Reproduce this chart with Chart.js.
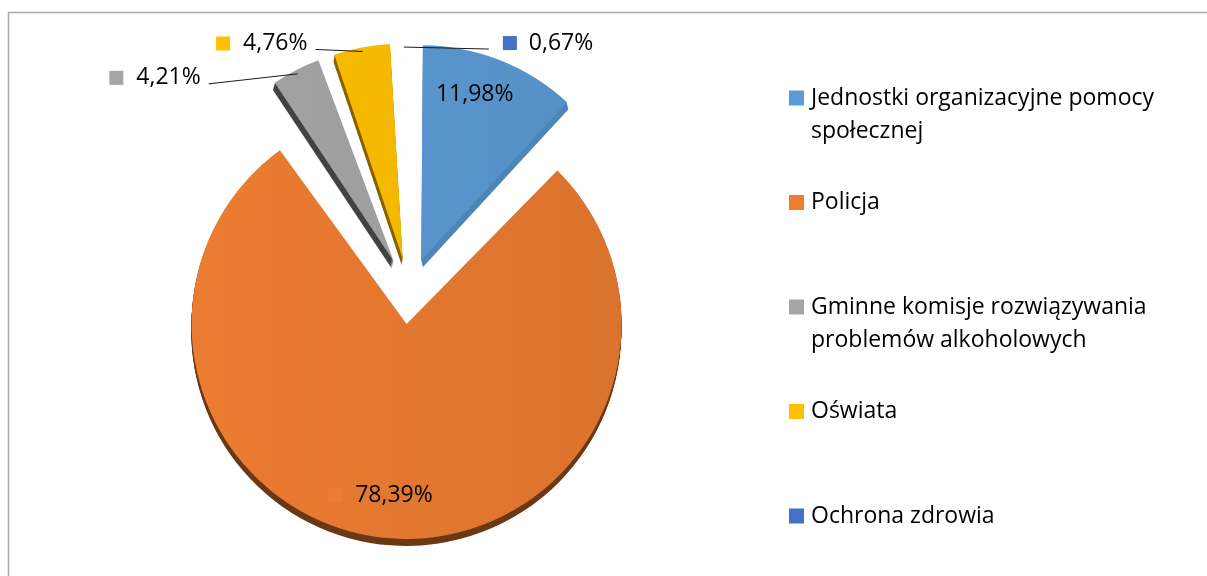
<!DOCTYPE html>
<html lang="pl">
<head>
<meta charset="utf-8">
<title>Struktura podmiotów</title>
<script src="https://cdn.jsdelivr.net/npm/chart.js@4.4.1/dist/chart.umd.min.js"></script>
<style>
  html, body { margin: 0; padding: 0; background: #fff; }
  #wrap { width: 1207px; height: 576px; }
</style>
</head>
<body>
<div id="wrap"><canvas id="chart" width="1207" height="576"></canvas></div>
<script>
const categories = [
  "Jednostki organizacyjne pomocy społecznej",
  "Policja",
  "Gminne komisje rozwiązywania problemów alkoholowych",
  "Oświata",
  "Ochrona zdrowia",
];
const shares = [11.98, 78.39, 4.21, 4.76, 0.67];
const colors = ["#5B9BD5", "#ED7D31", "#A5A5A5", "#FFC000", "#4472C4"];
const sideShade = [0.86, 0.45, 0.4, 0.52, 0.6]; // jasność boku "3D"

const FONT = "'Open Sans', sans-serif";
const FONT_SIZE = 23;
const R = 215;        // promień koła
const EXPLODE = 33;   // odsunięcie wycinków od środka
const DEPTH = 7;      // grubość "3D"
const SLANT = 1.5;    // boczne przesunięcie boku (perspektywa)
const KEY = 14;       // kwadracik klucza w etykietach

// etykiety danych: w środku wycinka albo obok, z linią odniesienia
const labelPos = [
  { inside: 0.83, dx: -12, key: false },
  { inside: 0.8, dx: 0, key: true },
  { side: "left", dx: -97, dy: 4 },
  { side: "left", dx: -55, dy: -8 },
  { side: "right", dx: 99, dy: -4 },
];

const fmt = v => v.toFixed(2).replace(".", ",") + "%";

function rgb(hex) {
  const n = parseInt(hex.slice(1), 16);
  return [(n >> 16) & 255, (n >> 8) & 255, n & 255];
}
function shade(hex, f) {
  const [r, g, b] = rgb(hex).map(c => Math.round(c * f));
  return `rgb(${r},${g},${b})`;
}

// lekki gradient na wierzchu wycinków
function sliceFill(context) {
  const chart = context.chart;
  const base = colors[context.dataIndex];
  const area = chart.chartArea;
  if (!area) return base;
  const cx = (area.left + area.right) / 2;
  const g = chart.ctx.createLinearGradient(cx - R, 0, cx + R, 0);
  g.addColorStop(0, shade(base, 0.995));
  g.addColorStop(1, shade(base, 0.92));
  return g;
}

// chart.js powiększa promień odsuniętych wycinków - wyrównujemy
const equalRadius = {
  id: "equalRadius",
  afterDatasetsUpdate(chart) {
    chart.getDatasetMeta(0).data.forEach(a => {
      const fix = 1 - Math.sin(Math.min(Math.PI, a.circumference));
      a.outerRadius = R - EXPLODE * fix;
    });
  },
};

// ciemniejszy "bok" pod wycinkami
const depth = {
  id: "depth",
  beforeDatasetsDraw(chart) {
    const ctx = chart.ctx;
    const arcs = chart.getDatasetMeta(0).data;
    arcs.forEach((a, i) => {
      const orig = a.options;
      const mid = (a.startAngle + a.endAngle) / 2;
      const sx = Math.cos(mid) * SLANT / DEPTH;
      a.options = Object.assign({}, orig, { backgroundColor: shade(colors[i], sideShade[i]) });
      for (let k = 1; k <= DEPTH; k++) {
        ctx.save();
        ctx.translate(k * sx * 3, k);
        a.draw(ctx);
        ctx.restore();
      }
      a.options = orig;
    });
  },
};

const dataLabels = {
  id: "dataLabels",
  afterDatasetsDraw(chart) {
    const ctx = chart.ctx;
    const arcs = chart.getDatasetMeta(0).data;
    ctx.save();
    ctx.font = FONT_SIZE + "px " + FONT;
    ctx.textBaseline = "middle";
    arcs.forEach((a, i) => {
      const mid = (a.startAngle + a.endAngle) / 2;
      const cx = a.x + Math.cos(mid) * EXPLODE;
      const cy = a.y + Math.sin(mid) * EXPLODE;
      const text = fmt(shares[i]);
      const tw = ctx.measureText(text).width;
      const p = labelPos[i];
      if (p.inside) {
        const tx = cx + Math.cos(mid) * R * p.inside + p.dx;
        const ty = cy + Math.sin(mid) * R * p.inside;
        if (p.key) {
          ctx.fillStyle = colors[i];
          ctx.fillRect(tx - tw / 2 - 13 - KEY, ty - KEY / 2, KEY, KEY);
        }
        ctx.fillStyle = "#000";
        ctx.textAlign = "center";
        ctx.fillText(text, tx, ty);
        return;
      }
      const ax = cx + Math.cos(mid) * (R - 4);
      const ay = cy + Math.sin(mid) * (R - 4);
      const ty = ay + p.dy;
      let sx, sq, tx;
      if (p.side === "left") {
        tx = ax + p.dx;
        sq = tx - tw - 13 - KEY;
        sx = tx + 8;
        ctx.textAlign = "right";
      } else {
        sq = ax + p.dx;
        tx = sq + KEY + 12;
        sx = sq - 14;
        ctx.textAlign = "left";
      }
      ctx.strokeStyle = "#1a1a1a";
      ctx.lineWidth = 1;
      ctx.beginPath();
      ctx.moveTo(sx, ty + 6);
      ctx.lineTo(ax, ay);
      ctx.stroke();
      ctx.fillStyle = colors[i];
      ctx.fillRect(sq, ty - KEY / 2, KEY, KEY);
      ctx.fillStyle = "#000";
      ctx.fillText(text, tx, ty);
    });
    ctx.restore();
  },
};

// legenda po prawej, z zawijaniem długich nazw
const sideLegend = {
  id: "sideLegend",
  afterDraw(chart) {
    const ctx = chart.ctx;
    const x = 789, top = 98, step = 104.5, lineH = 33, maxW = 380;
    ctx.save();
    ctx.font = FONT_SIZE + "px " + FONT;
    ctx.textBaseline = "middle";
    ctx.textAlign = "left";
    chart.data.labels.forEach((label, i) => {
      const y = top + i * step;
      ctx.fillStyle = colors[i];
      ctx.fillRect(x, y - 7.5, 15, 15);
      const lines = [];
      let line = "";
      label.split(" ").forEach(w => {
        const t = line ? line + " " + w : w;
        if (ctx.measureText(t).width > maxW && line) {
          lines.push(line);
          line = w;
        } else {
          line = t;
        }
      });
      lines.push(line);
      ctx.fillStyle = "#000";
      lines.forEach((l, k) => ctx.fillText(l, x + 22, y + k * lineH));
    });
    // ramka wykresu
    ctx.strokeStyle = "#a9a9a9";
    ctx.lineWidth = 1.5;
    ctx.strokeRect(8.5, 12.5, 1400, 800);
    ctx.restore();
  },
};

const chart = new Chart(document.getElementById("chart"), {
  type: "pie",
  data: {
    labels: categories,
    datasets: [
      {
        data: shares,
        backgroundColor: sliceFill,
        borderWidth: 0,
        offset: EXPLODE * 4,
        radius: R,
      },
    ],
  },
  options: {
    responsive: false,
    animation: false,
    events: [],
    layout: { padding: { left: 0, top: 6, right: 389, bottom: 0 } },
    plugins: {
      legend: { display: false },
      tooltip: { enabled: false },
    },
  },
  plugins: [equalRadius, depth, dataLabels, sideLegend],
});
</script>
</body>
</html>
